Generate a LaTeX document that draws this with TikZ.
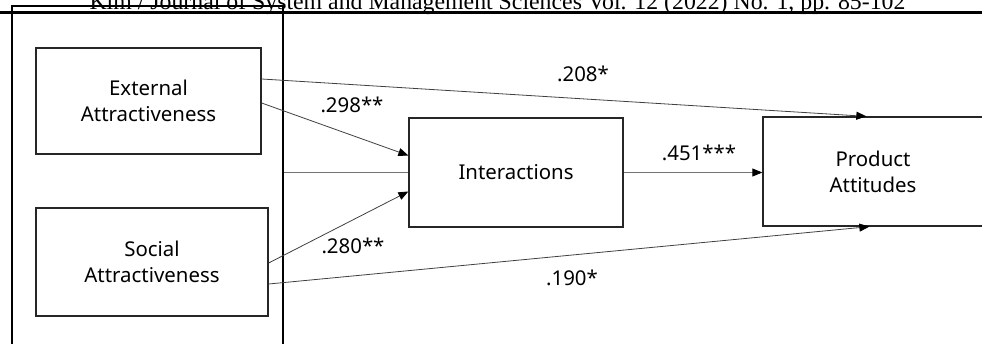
\documentclass[tikz,border=0pt]{standalone}
\usepackage{fontspec}
\setmainfont{Noto Sans}
\newfontfamily\headfont{Liberation Serif}
\usetikzlibrary{arrows.meta}

\begin{document}
\begin{tikzpicture}[x=1pt, y=-1pt,
        box/.style={draw=black!85, line width=1.3pt, align=center, inner sep=0pt,
            font=\fontsize{20.4}{26}\selectfont},
        link/.style={draw=black!75, line width=0.8pt,
            -{Triangle[length=10pt, width=8pt, color=black]}},
        coef/.style={font=\fontsize{20.4}{26}\selectfont}]
        \useasboundingbox (0,0) rectangle (982,344);

        % Page header
        \node[font=\headfont\fontsize{23.8}{26}\selectfont, anchor=base] (head) at (497.5,9.5)
            {Kim / Journal of System and Management Sciences Vol. 12 (2022) No. 1, pp. 85-102};
        \draw[line width=2.6pt] (0,12.7) -- (982,12.7);

        % Outer frame
        \node[draw, line width=2pt, inner sep=0pt, minimum width=271pt, minimum height=353pt] (grp) at (147.5,183) {};

        % Define nodes
        \node[box, minimum width=225pt, minimum height=106pt] (ext) at (148.5,101) {External\\Attractiveness};
        \node[box, minimum width=232pt, minimum height=108pt] (soc) at (152,262) {Social\\Attractiveness};
        \node[box, minimum width=214pt, minimum height=109pt] (inter) at (516,172.5) {Interactions};
        \node[box, minimum width=220pt, minimum height=109pt] (prod) at (873,171.5) {Product\\Attitudes};

        % Draw edges
        \draw[link] ([yshift=22pt]ext.east) -- ([xshift=104pt]prod.north west);
        \draw[link] ([yshift=-2pt]ext.east) -- ([yshift=17pt]inter.west);
        \draw[link] ([yshift=-1pt]soc.east) -- ([yshift=-19pt]inter.west);
        \draw[link] ([yshift=-22pt]soc.east) -- ([xshift=107pt]prod.south west);
        \draw[draw=black!55, line width=0.8pt] (grp.east |- inter.west) -- (inter.west);
        \draw[link, draw=black!55] (inter.east) -- (inter.east -| prod.west);

        % Path coefficients
        \node[coef] (c1) at (583,73.5) {.208*};
        \node[coef] (c2) at (352,105) {.298**};
        \node[coef] (c3) at (699,153) {.451***};
        \node[coef] (c4) at (353,246) {.280**};
        \node[coef] (c5) at (572,278) {.190*};
    \end{tikzpicture}
\end{document}
